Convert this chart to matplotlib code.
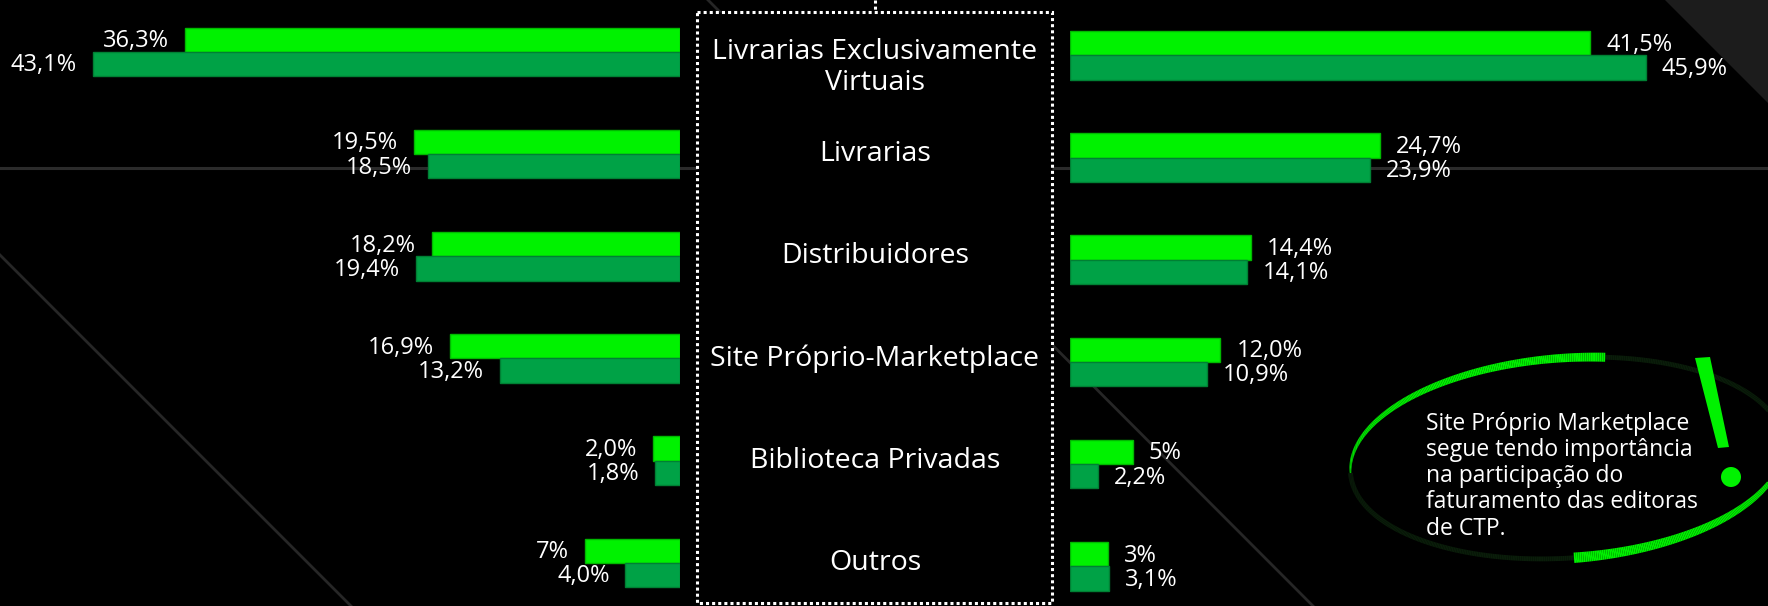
import numpy as np
import matplotlib
matplotlib.use("Agg")
import matplotlib.pyplot as plt
from matplotlib.patches import Rectangle, Polygon, Circle
from matplotlib.collections import LineCollection
from matplotlib import transforms

plt.rcParams['font.family'] = ['Open Sans', 'DejaVu Sans']

# Canais de venda (mesma ordem nos dois lados)
categorias = [
    "Livrarias Exclusivamente\nVirtuais",
    "Livrarias",
    "Distribuidores",
    "Site Próprio-Marketplace",
    "Biblioteca Privadas",
    "Outros",
]

# lado esquerdo
esq_claro = [36.3, 19.5, 18.2, 16.9, 2.0, 7]
esq_escuro = [43.1, 18.5, 19.4, 13.2, 1.8, 4.0]
esq_claro_txt = ["36,3%", "19,5%", "18,2%", "16,9%", "2,0%", "7%"]
esq_escuro_txt = ["43,1%", "18,5%", "19,4%", "13,2%", "1,8%", "4,0%"]

# lado direito
dir_claro = [41.5, 24.7, 14.4, 12.0, 5, 3]
dir_escuro = [45.9, 23.9, 14.1, 10.9, 2.2, 3.1]
dir_claro_txt = ["41,5%", "24,7%", "14,4%", "12,0%", "5%", "3%"]
dir_escuro_txt = ["45,9%", "23,9%", "14,1%", "10,9%", "2,2%", "3,1%"]

nota = ("Site Próprio Marketplace\nsegue tendo importância\n"
        "na participação do\nfaturamento das editoras\nde CTP.")

VERDE = "#00f200"
VERDE_BORDA = "#00b800"
VERDE_ESC = "#00a246"
VERDE_ESC_BORDA = "#008034"
CINZA = "#262626"

W, H = 1768, 606
fig = plt.figure(figsize=(W / 100, H / 100), dpi=100, facecolor="black")

# fundo em coordenadas de pixel
bg = fig.add_axes([0, 0, 1, 1])
bg.set_xlim(0, W)
bg.set_ylim(H, 0)
bg.set_facecolor("black")
bg.axis("off")

bg.plot([0, W], [168, 168], color="#2b2b2b", lw=2.2, zorder=1)
bg.plot([0, 351], [255, 606], color=CINZA, lw=2, zorder=1)
bg.plot([708, 1313], [0, 606], color=CINZA, lw=2, zorder=1)
bg.add_patch(Polygon([[1665, 0], [W, 0], [W, 103]], closed=True,
                     fc="#1c1c1c", ec="none", zorder=1))

# caixa central pontilhada
bg.add_patch(Rectangle((697, 12), 355, 591, fc="black", ec="white",
                       lw=2.2, ls=(0, (1, 1)), zorder=2))
bg.plot([875, 875], [0, 12], color="white", lw=2.2, ls=(0, (1, 1)), zorder=2)

# barras
h = 0.237
y = np.arange(len(categorias))

ax_l = fig.add_axes([0, 0, 680 / W, 1])
ax_l.set_xlim(49.9, 0)
ax_l.set_ylim(5.422, -0.508)

ax_r = fig.add_axes([1070 / W, 0, 698 / W, 1])
ax_r.set_xlim(0, 55.66)
ax_r.set_ylim(5.388, -0.541)


def lado(ax, claro, escuro, claro_txt, escuro_txt, ha, dx):
    ax.set_facecolor("none")
    ax.axis("off")
    ax.barh(y - h, claro, height=h, align="edge", color=VERDE,
            edgecolor=VERDE_BORDA, lw=1)
    ax.barh(y, escuro, height=h, align="edge", color=VERDE_ESC,
            edgecolor=VERDE_ESC_BORDA, lw=1)
    for yi, v, t in zip(y, claro, claro_txt):
        ax.annotate(t, (v, yi - h / 2), xytext=(dx, -1), textcoords="offset points",
                    ha=ha, va="center", color="white", fontsize=17)
    for yi, v, t in zip(y, escuro, escuro_txt):
        ax.annotate(t, (v, yi + h / 2), xytext=(dx, -1), textcoords="offset points",
                    ha=ha, va="center", color="white", fontsize=17)


lado(ax_l, esq_claro, esq_escuro, esq_claro_txt, esq_escuro_txt, "right", -11.5)
lado(ax_r, dir_claro, dir_escuro, dir_claro_txt, dir_escuro_txt, "left", 11.5)

# nomes das categorias no centro da caixa; rótulos de duas linhas descem um pouco
tr = transforms.blended_transform_factory(bg.transData, ax_l.transData)
for yi, c in zip(y, categorias):
    extra = c.count("\n")
    bg.annotate(c, (875, yi), xycoords=tr, xytext=(0, -11 * extra),
                textcoords="offset points", ha="center", va="center",
                color="white", fontsize=20.5, linespacing=1.15, zorder=3)

# destaque: elipse em pincelada
cx, cy, a, b, phi = 1567, 458, 217, 100, np.radians(4)
t = np.linspace(0, 2 * np.pi, 721)
ex = cx + a * np.cos(t) * np.cos(phi) - b * np.sin(t) * np.sin(phi)
ey = cy - (a * np.cos(t) * np.sin(phi) + b * np.sin(t) * np.cos(phi))
pts = np.column_stack([ex, ey]).reshape(-1, 1, 2)
segs = np.concatenate([pts[:-1], pts[1:]], axis=1)
tm = np.degrees(t[:-1] + t[1:]) / 2
cores, larguras = [], []
for ang in tm:
    if 78 <= ang < 180:
        f = 1 - (ang - 78) / 102
        cores.append(VERDE)
        larguras.append(1.0 + 5.5 * f ** 0.7)
    elif 270 <= ang < 360:
        f = 1 - (ang - 270) / 90
        cores.append(VERDE)
        larguras.append(1.0 + 6.5 * f ** 0.7)
    else:
        cores.append("#0a1d0a")
        larguras.append(3.5)
bg.add_collection(LineCollection(segs, colors=cores, linewidths=larguras,
                                 capstyle="butt", zorder=4))

# ponto de exclamação
bg.add_patch(Polygon([[1695, 358], [1710, 357], [1729, 447], [1718, 448]],
                     closed=True, fc=VERDE, ec="none", zorder=5))
bg.add_patch(Circle((1731, 477), 10, fc=VERDE, ec="none", zorder=5))

bg.text(1426, 412, nota, ha="left", va="top", color="white",
        fontsize=16.5, linespacing=1.12, zorder=5)

fig.savefig("out.png", dpi=100, facecolor="black")
